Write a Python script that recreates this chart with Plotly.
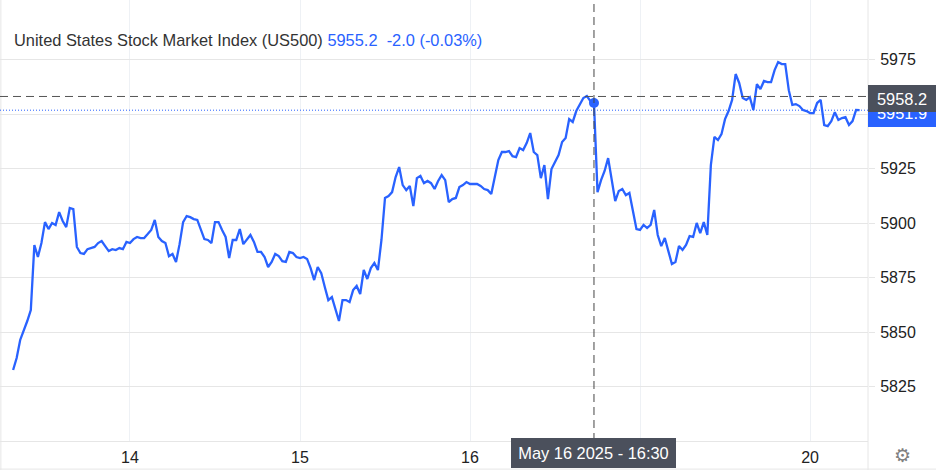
import pandas as pd
import plotly.graph_objects as go

# ---------------- data ----------------
prices = [
    5832.6, 5838.1, 5846.4, 5850.5, 5855.1, 5860.1, 5890.0, 5884.5, 5890.9, 5900.5,
    5897.3, 5900.1, 5899.2, 5905.1, 5901.0, 5898.2, 5907.0, 5906.5, 5889.1, 5886.3,
    5885.9, 5888.1, 5888.6, 5889.1, 5890.9, 5891.8, 5889.5, 5887.2, 5888.1, 5887.7,
    5888.6, 5888.1, 5891.4, 5890.9, 5892.7, 5893.7, 5893.2, 5893.2, 5895.0, 5896.9,
    5901.5, 5893.7, 5891.8, 5890.9, 5884.9, 5885.9, 5882.2, 5890.4, 5900.5, 5903.3,
    5902.8, 5901.9, 5901.5, 5897.3, 5892.7, 5892.3, 5890.9, 5900.5, 5900.5, 5896.9,
    5893.7, 5884.0, 5892.3, 5892.3, 5897.3, 5890.4, 5892.3, 5894.6, 5891.4, 5886.8,
    5886.8, 5884.5, 5879.9, 5882.2, 5885.9, 5884.9, 5882.6, 5882.2, 5886.8, 5886.3,
    5884.5, 5884.0, 5884.5, 5883.6, 5879.4, 5873.9, 5879.9, 5877.1, 5870.7, 5864.7,
    5866.1, 5860.1, 5855.1, 5864.7, 5864.7, 5863.8, 5869.3, 5871.2, 5867.5, 5878.5,
    5874.4, 5879.4, 5881.7, 5878.5, 5892.3, 5911.6, 5912.5, 5914.3, 5921.2, 5925.8,
    5917.5, 5915.2, 5917.1, 5907.9, 5920.7, 5921.7, 5918.4, 5919.4, 5918.4, 5915.7,
    5919.4, 5922.1, 5919.8, 5909.7, 5911.1, 5911.6, 5916.6, 5917.5, 5918.9, 5918.0,
    5918.0, 5918.0, 5917.1, 5915.7, 5915.2, 5913.4, 5921.2, 5929.0, 5932.7, 5932.7,
    5933.1, 5930.8, 5930.4, 5934.5, 5933.6, 5936.8, 5941.4, 5932.7, 5931.3, 5920.7,
    5926.7, 5911.1, 5924.9, 5928.1, 5931.3, 5937.3, 5939.1, 5947.8, 5946.5, 5951.5,
    5954.3, 5957.5, 5958.4, 5956.1, 5955.2, 5914.3, 5919.8, 5924.0, 5929.9, 5919.8,
    5910.2, 5914.8, 5915.7, 5912.9, 5913.9, 5905.6, 5897.3, 5896.9, 5899.2, 5897.8,
    5899.2, 5906.1, 5894.6, 5889.5, 5893.2, 5887.2, 5881.3, 5882.2, 5889.5, 5887.7,
    5890.0, 5894.1, 5893.7, 5900.1, 5895.5, 5900.5, 5894.6, 5926.7, 5939.6, 5938.2,
    5940.9, 5947.8, 5951.5, 5956.6, 5968.5, 5964.4, 5957.5, 5956.6, 5957.9, 5952.0,
    5963.9, 5961.6, 5965.3, 5964.8, 5964.8, 5970.3, 5974.0, 5973.1, 5973.1, 5961.1,
    5954.3, 5954.7, 5953.8, 5952.0, 5951.5, 5950.6, 5950.6, 5955.2, 5956.6, 5945.1,
    5944.6, 5946.9, 5951.0, 5947.4, 5948.3, 5948.7, 5945.1, 5946.9, 5952.0, 5951.9,
]
# 30-minute bars, weekend skipped
session_a = pd.date_range("2025-05-13 07:30", "2025-05-16 23:30", freq="30min")
session_b = pd.date_range("2025-05-19 00:00", "2025-05-20 07:00", freq="30min")
times = list(session_a) + list(session_b)

# "19" and "5950" sit under the cursor label / price badges, as in the reference
tick_dates = ["2025-05-14", "2025-05-15", "2025-05-16", "2025-05-19", "2025-05-20"]
tick_labels = ["14", "15", "16", "", "20"]
y_ticks = [5825, 5850, 5875, 5900, 5925, 5950, 5975]
y_tick_labels = ["5825", "5850", "5875", "5900", "5925", "", "5975"]

title_name = "United States Stock Market Index (US500)"
hover_index = 164
hover_price = prices[hover_index]
change_text = "-2.0 (-0.03%)"
cursor_price = 5958.2
last_price = prices[-1]
cursor_label = "May 16 2025 - 16:30"

# ---------------- style ----------------
BLUE = "#2962ff"
DARK = "#4b505c"
GRID = "#e6e6e6"
VGRID = "#eef1f5"
FONT = "Liberation Sans, Arial, Helvetica, sans-serif"

fig = go.Figure()
fig.add_trace(go.Scatter(x=times, y=prices, mode="lines",
                         line=dict(color=BLUE, width=2.3), hoverinfo="skip"))
fig.add_trace(go.Scatter(x=[times[hover_index]], y=[hover_price], mode="markers",
                         marker=dict(size=10, color=BLUE), hoverinfo="skip"))

bottom_paper = -29 / 441
fig.update_layout(
    width=936, height=470,
    margin=dict(l=0, r=68, t=0, b=29),
    paper_bgcolor="white", plot_bgcolor="white",
    showlegend=False, hovermode=False,
    font=dict(family=FONT, size=16, color="#222"),
    xaxis=dict(
        type="date",
        range=["2025-05-13 05:39", "2025-05-20 08:11"],
        rangebreaks=[dict(bounds=["sat", "mon"])],
        tickvals=tick_dates, ticktext=tick_labels,
        showgrid=True, gridcolor=VGRID, gridwidth=1,
        showline=True, linecolor=GRID, linewidth=1,
        ticks="", zeroline=False, automargin=False,
        ticklabelstandoff=2,
        tickfont=dict(size=16, color="#222"),
    ),
    yaxis=dict(
        side="right",
        range=[5800, 6002.5],
        tickvals=y_ticks, ticktext=y_tick_labels,
        showgrid=True, gridcolor=GRID, gridwidth=1,
        ticks="outside", ticklen=6, tickcolor=GRID,
        showline=False, zeroline=False, automargin=False,
        ticklabelstandoff=2,
        tickfont=dict(size=16, color="#222"),
    ),
    shapes=[
        # right axis / panel separator
        dict(type="line", xref="paper", yref="paper", x0=1, x1=1, y0=bottom_paper, y1=1,
             line=dict(color=GRID, width=1)),
        # left border
        dict(type="line", xref="paper", yref="paper", x0=0.001, x1=0.001, y0=bottom_paper, y1=1,
             line=dict(color=GRID, width=1)),
        # bottom border
        dict(type="line", xref="paper", yref="paper", x0=0, x1=936 / 868, y0=bottom_paper + 0.002,
             y1=bottom_paper + 0.002, line=dict(color=GRID, width=1)),
        # last price dotted line
        dict(type="line", xref="paper", yref="y", x0=0, x1=1, y0=last_price, y1=last_price,
             line=dict(color=BLUE, width=1, dash="1px,2px")),
        # crosshair horizontal
        dict(type="line", xref="paper", yref="y", x0=0, x1=1, y0=cursor_price, y1=cursor_price,
             line=dict(color="#555", width=1, dash="8px,5px")),
        # crosshair vertical
        dict(type="line", xref="x", yref="paper", x0=times[hover_index], x1=times[hover_index],
             y0=0, y1=1, line=dict(color="#444", width=1, dash="8px,5px")),
    ],
    annotations=[
        dict(xref="paper", yref="paper", x=0, y=1, xanchor="left", yanchor="middle",
             xshift=12, yshift=-40, showarrow=False,
             text=(f"{title_name} <span style='color:{BLUE}'>{hover_price:.1f}"
                   f"\u00a0\u00a0{change_text}</span>"),
             font=dict(size=16.4, color="#333", family=FONT)),
        dict(xref="paper", yref="y", x=1, y=last_price, xanchor="left", yanchor="middle",
             yshift=-3, showarrow=False, text=f"{last_price:.1f}", bgcolor=BLUE, bordercolor=BLUE,
             borderwidth=1, borderpad=2, width=62, height=22, align="center",
             font=dict(size=16.4, color="white", family=FONT)),
        dict(xref="paper", yref="y", x=1, y=cursor_price, xanchor="left", yanchor="middle",
             yshift=-2, showarrow=False, text=f"{cursor_price:.1f}", bgcolor=DARK, bordercolor=DARK,
             borderwidth=1, borderpad=2, width=62, height=21, align="center",
             font=dict(size=16.4, color="white", family=FONT)),
        dict(xref="x", yref="paper", x=times[hover_index], y=0, xanchor="center", yanchor="top",
             yshift=3, showarrow=False, text=cursor_label, bgcolor=DARK, bordercolor=DARK,
             borderwidth=1, borderpad=2, width=159, height=24, align="center",
             font=dict(size=16.4, color="white", family=FONT)),
        dict(xref="paper", yref="paper", x=1, y=0, xanchor="center", yanchor="middle",
             xshift=34, yshift=-14, showarrow=False, text="\u2699",
             font=dict(size=19, color="#808080", family="DejaVu Sans")),
    ],
)

fig.write_html("out.html", config={"displayModeBar": False},
               post_script="document.body.style.margin='0px';")
